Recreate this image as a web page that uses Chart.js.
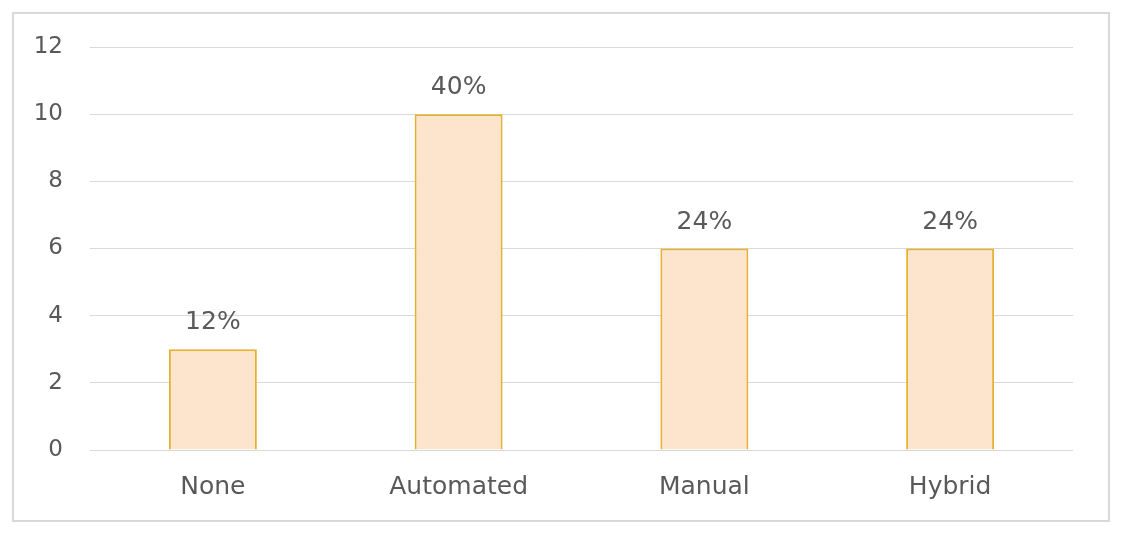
<!DOCTYPE html>
<html>
<head>
<meta charset="utf-8">
<script src="https://cdn.jsdelivr.net/npm/chart.js@4.4.1/dist/chart.umd.min.js"></script>
<style>
  html, body { margin: 0; padding: 0; background: #fff; }
  #wrap { position: relative; width: 1121px; height: 535px; }
  #frame { position: absolute; left: 12px; top: 12px; width: 1094px; height: 506px; border: 2px solid #d9d9d9; }
  #c { position: absolute; left: 0; top: 0; }
</style>
</head>
<body>
<div id="wrap">
  <div id="frame"></div>
  <canvas id="c" width="1121" height="535"></canvas>
</div>
<script>
const categories = ['None', 'Automated', 'Manual', 'Hybrid'];
const counts = [3, 10, 6, 6];
const percentLabels = ['12%', '40%', '24%', '24%'];
const yTicks = [0, 2, 4, 6, 8, 10, 12];

const textColor = '#595959';
const fontFamily = '"DejaVu Sans", sans-serif';

// percentage labels above each bar
const barLabels = {
  id: 'barLabels',
  afterDatasetsDraw(chart) {
    const { ctx } = chart;
    const meta = chart.getDatasetMeta(0);
    ctx.save();
    ctx.font = '25px ' + fontFamily;
    ctx.fillStyle = textColor;
    ctx.textAlign = 'center';
    ctx.textBaseline = 'alphabetic';
    meta.data.forEach((bar, i) => {
      ctx.fillText(percentLabels[i], bar.x, bar.y - 20);
    });
    ctx.restore();
  }
};

new Chart(document.getElementById('c'), {
  type: 'bar',
  data: {
    labels: categories,
    datasets: [{
      data: counts,
      backgroundColor: '#fde5cd',
      borderColor: '#e8b030',
      borderWidth: 2,
      categoryPercentage: 1,
      barPercentage: 0.358
    }]
  },
  options: {
    responsive: false,
    animation: false,
    layout: { padding: { left: 0, right: 48, top: 47, bottom: 0 } },
    plugins: {
      legend: { display: false },
      tooltip: { enabled: false }
    },
    scales: {
      x: {
        grid: { display: false },
        border: { display: false },
        ticks: { color: textColor, font: { family: fontFamily, size: 25 }, padding: 14 },
        afterFit(scale) { scale.height = 85; }
      },
      y: {
        min: 0,
        max: 12,
        afterBuildTicks(scale) { scale.ticks = yTicks.map(v => ({ value: v })); },
        grid: { color: '#d9d9d9', lineWidth: 1, drawTicks: false },
        border: { display: false },
        ticks: { color: textColor, font: { family: fontFamily, size: 23 }, padding: 27 },
        afterFit(scale) { scale.width = 90; }
      }
    }
  },
  plugins: [barLabels]
});
</script>
</body>
</html>
